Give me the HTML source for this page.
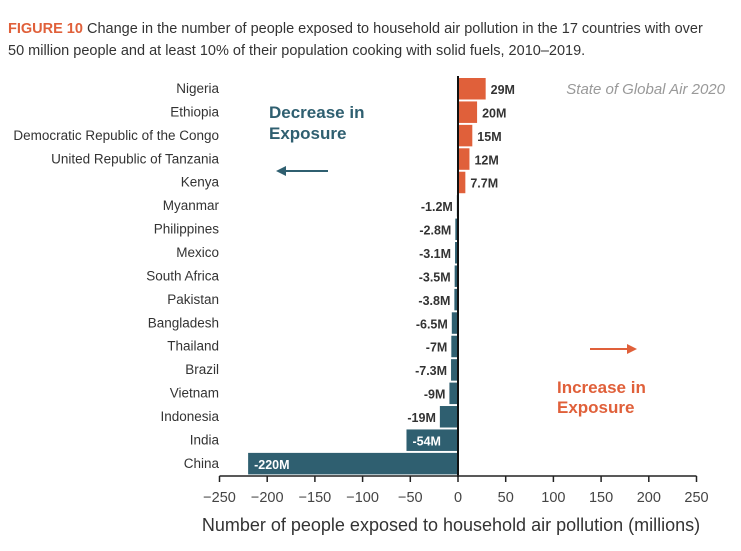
<!DOCTYPE html>
<html><head><meta charset="utf-8"><style>
body{margin:0;background:#fff;}
svg{display:block;font-family:"Liberation Sans","DejaVu Sans",sans-serif;}
</style></head><body>
<svg id="chart" width="741" height="551">
<text x="8" y="33" font-size="14.5" fill="#333"><tspan fill="#e0603a" font-weight="bold">FIGURE 10</tspan> Change in the number of people exposed to household air pollution in the 17 countries with over</text>
<text x="8" y="55" font-size="14.5" fill="#333">50 million people and at least 10% of their population cooking with solid fuels, 2010–2019.</text>
<text x="725" y="94" font-size="15" font-style="italic" fill="#999" text-anchor="end">State of Global Air 2020</text>
<text x="269" y="118" font-size="17" font-weight="bold" fill="#2f5f70">Decrease in</text>
<text x="269" y="139" font-size="17" font-weight="bold" fill="#2f5f70">Exposure</text>
<g><line x1="282" y1="171" x2="328" y2="171" stroke="#2f5f70" stroke-width="2"/><polygon points="276,171 286,166 286,176" fill="#2f5f70"/></g>
<text x="557" y="393" font-size="17" font-weight="bold" fill="#e0603a">Increase in</text>
<text x="557" y="413" font-size="17" font-weight="bold" fill="#e0603a">Exposure</text>
<g><line x1="590" y1="349" x2="630" y2="349" stroke="#e0603a" stroke-width="2"/><polygon points="637,349 627,344 627,354" fill="#e0603a"/></g>
<g id="bars"></g>
<text x="451" y="531" font-size="18" fill="#333" text-anchor="middle">Number of people exposed to household air pollution (millions)</text>
</svg>
<script>
const countries=["Nigeria","Ethiopia","Democratic Republic of the Congo","United Republic of Tanzania","Kenya","Myanmar","Philippines","Mexico","South Africa","Pakistan","Bangladesh","Thailand","Brazil","Vietnam","Indonesia","India","China"];
const values=[29,20,15,12,7.7,-1.2,-2.8,-3.1,-3.5,-3.8,-6.5,-7,-7.3,-9,-19,-54,-220];
const valueLabels=["29M","20M","15M","12M","7.7M","-1.2M","-2.8M","-3.1M","-3.5M","-3.8M","-6.5M","-7M","-7.3M","-9M","-19M","-54M","-220M"];
const ticks=[-250,-200,-150,-100,-50,0,50,100,150,200,250];
const NS="http://www.w3.org/2000/svg";
const g=document.getElementById('bars');
const x=v=>458+v*0.954;
const y=i=>78+i*23.43;
function mk(t,a){const e=document.createElementNS(NS,t);for(const k in a)e.setAttribute(k,a[k]);g.appendChild(e);return e;}
countries.forEach((c,i)=>{
  const v=values[i];
  const r=mk('rect',{x:Math.min(x(0),x(v)),y:y(i),width:Math.abs(x(v)-x(0)),height:21.5,fill:v>=0?'#e0603a':'#2f5f70'});
  
  
  const t=mk('text',{x:219,y:y(i)+15,'font-size':13.5,fill:'#333','text-anchor':'end'});t.textContent=c;
  
  
  let lx,anchor,fill='#333';
  if(v>=0){lx=x(v)+5;anchor='start';}
  else if(v<-40){lx=x(v)+6;anchor='start';fill='#fff';}
  else{lx=x(v)-4;anchor='end';}
  const l=mk('text',{x:lx,y:y(i)+16,'font-size':12.5,'font-weight':'bold',fill:fill,'text-anchor':anchor});l.textContent=valueLabels[i];
  
  
});
const zl=mk('line',{x1:x(0),y1:76,x2:x(0),y2:477,stroke:'#111','stroke-width':2});


const ax=mk('line',{x1:x(-250),y1:476,x2:x(250),y2:476,stroke:'#222','stroke-width':1.5});


ticks.forEach(t=>{
  const tk=mk('line',{x1:x(t),y1:476,x2:x(t),y2:482,stroke:'#222','stroke-width':1.5});
  
  
  const tl=mk('text',{x:x(t),y:502,'font-size':14.5,fill:'#444','text-anchor':'middle'});
  tl.textContent=t<0?'\u2212'+(-t):String(t);
  
  
});
</script>
</body></html>
